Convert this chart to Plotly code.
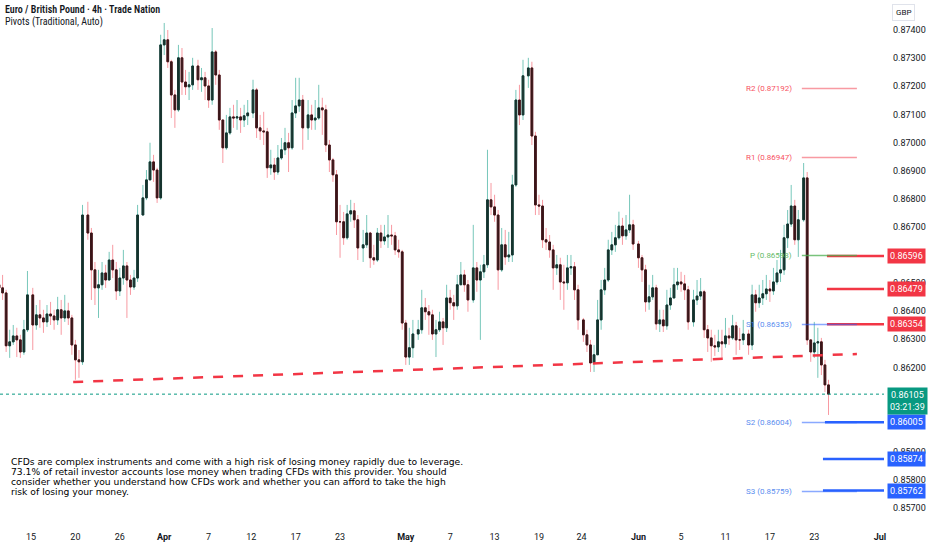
import pandas as pd
import plotly.graph_objects as go

# EUR/GBP, 8h candles (prices in 1e-5 GBP)
first_open = 86494
closes = [
    86483, 86465, 86277, 86291, 86312, 86298, 86255, 86334, 86458,
    86351, 86387, 86376, 86362, 86390, 86383, 86369, 86405, 86376, 86401, 86376, 86280, 86227, 86220, 86742,
    86678, 86547, 86483, 86494, 86536, 86511, 86582, 86547, 86472, 86518, 86561, 86511, 86486, 86518, 86742,
    86803, 86867, 86931, 86902, 86803, 87347, 87365, 87287, 87169, 87116, 87301, 87215, 87198, 87205, 87272,
    87223, 87230, 87201, 87151, 87322, 87240, 87080, 86981, 87034, 87091, 87087, 87091, 87080, 87095, 87105,
    87187, 87052, 87041, 87038, 86910, 86920, 86895, 86945, 86974, 86999, 86981, 87105, 87130, 87151, 87052,
    87098, 87080, 87087, 87123, 87116, 86991, 86938, 86885, 86718, 86718, 86661, 86746, 86757, 86725, 86625,
    86636, 86678, 86590, 86582, 86678, 86650, 86664, 86671, 86668, 86618, 86611, 86358, 86237, 86270, 86319,
    86334, 86412, 86398, 86387, 86319, 86334, 86362, 86341, 86447, 86430, 86419, 86494, 86529, 86494, 86440,
    86554, 86511, 86540, 86565, 86796, 86771, 86742, 86547, 86636, 86593, 86600, 86849, 87151, 87098, 87237,
    87265, 87023, 86778, 86774, 86654, 86646, 86618, 86554, 86565, 86504, 86501, 86554, 86558, 86476, 86369,
    86316, 86280, 86216, 86245, 86369, 86476, 86511, 86618, 86636, 86661, 86703, 86668, 86689, 86707, 86639,
    86590, 86547, 86433, 86451, 86483, 86355, 86369, 86348, 86422, 86447, 86494, 86504, 86497, 86476, 86362,
    86440, 86454, 86469, 86334, 86305, 86277, 86273, 86291, 86284, 86312, 86305, 86348, 86298, 86298, 86319,
    86280, 86458, 86430, 86447, 86462, 86479, 86472, 86504, 86536, 86547, 86661, 86710, 86774, 86654, 86725,
    86874, 86298, 86255, 86287, 86291, 86209, 86138, 86105,
]
highs = [
    86565, 86529, 86476, 86334, 86351, 86341, 86316, 86369, 86543,
    86483, 86422, 86440, 86405, 86422, 86433, 86405, 86451, 86440, 86458, 86430, 86387, 86298, 86262, 86778,
    86789, 86696, 86575, 86547, 86575, 86565, 86611, 86636, 86575, 86554, 86618, 86575, 86529, 86547, 86778,
    86849, 86902, 86999, 86956, 86910, 87383, 87425, 87400, 87294, 87187, 87347, 87336, 87258, 87251, 87301,
    87294, 87265, 87251, 87223, 87407, 87329, 87258, 87080, 87098, 87123, 87134, 87151, 87123, 87134, 87151,
    87223, 87194, 87098, 87109, 87052, 86974, 86945, 86991, 87016, 87052, 87034, 87151, 87230, 87230, 87169,
    87151, 87134, 87151, 87205, 87159, 87134, 87009, 86945, 86902, 86778, 86753, 86778, 86796, 86785, 86742,
    86689, 86742, 86682, 86636, 86696, 86707, 86707, 86742, 86707, 86682, 86654, 86618, 86369, 86341, 86369,
    86369, 86476, 86447, 86422, 86405, 86369, 86398, 86376, 86494, 86476, 86458, 86529, 86575, 86547, 86511,
    86707, 86575, 86565, 86600, 86974, 86856, 86814, 86760, 86696, 86689, 86682, 86885, 87187, 87205, 87294,
    87301, 87287, 87038, 86814, 86796, 86696, 86671, 86636, 86600, 86590, 86565, 86600, 86600, 86575, 86494,
    86376, 86334, 86298, 86280, 86440, 86511, 86554, 86654, 86682, 86707, 86754, 86732, 86742, 86814, 86725,
    86650, 86600, 86565, 86494, 86529, 86494, 86405, 86405, 86476, 86483, 86554, 86554, 86540, 86529, 86490,
    86476, 86511, 86518, 86476, 86351, 86334, 86316, 86334, 86334, 86376, 86341, 86387, 86362, 86341, 86369,
    86334, 86494, 86476, 86494, 86511, 86529, 86511, 86554, 86582, 86618, 86707, 86760, 86849, 86796, 86760,
    86927, 86895, 86298, 86362, 86341, 86305, 86227, 86156,
]
lows = [
    86458, 86440, 86255, 86234, 86280, 86237, 86234, 86245, 86326,
    86262, 86334, 86341, 86323, 86344, 86351, 86334, 86351, 86316, 86362, 86351, 86245, 86156, 86163, 86209,
    86654, 86440, 86422, 86376, 86476, 86483, 86511, 86518, 86440, 86454, 86494, 86376, 86458, 86476, 86504,
    86742, 86795, 86867, 86860, 86785, 86796, 87311, 87265, 87087, 87052, 87109, 87169, 87169, 87151, 87187,
    87187, 87180, 87151, 87123, 87134, 87205, 87045, 86927, 86974, 87027, 87052, 87045, 87034, 87055, 87062,
    87087, 87016, 87009, 86991, 86874, 86885, 86867, 86885, 86938, 86956, 86895, 86974, 87087, 87109, 86974,
    87009, 87045, 87045, 87080, 87027, 86966, 86895, 86860, 86671, 86590, 86636, 86654, 86718, 86696, 86582,
    86575, 86625, 86554, 86565, 86575, 86625, 86636, 86625, 86636, 86600, 86590, 86334, 86209, 86209, 86234,
    86298, 86320, 86369, 86316, 86298, 86237, 86326, 86280, 86326, 86405, 86369, 86405, 86494, 86469, 86398,
    86430, 86469, 86298, 86518, 86554, 86742, 86718, 86476, 86540, 86565, 86575, 86575, 86842, 87062, 87080,
    87194, 86991, 86742, 86742, 86625, 86618, 86590, 86476, 86529, 86440, 86405, 86476, 86529, 86440, 86334,
    86291, 86255, 86184, 86184, 86245, 86334, 86458, 86504, 86600, 86611, 86654, 86636, 86654, 86678, 86618,
    86554, 86504, 86398, 86405, 86440, 86334, 86326, 86326, 86334, 86405, 86447, 86476, 86469, 86440, 86334,
    86345, 86422, 86440, 86305, 86255, 86220, 86241, 86255, 86234, 86270, 86280, 86298, 86245, 86262, 86280,
    86245, 86262, 86398, 86412, 86422, 86440, 86433, 86458, 86494, 86504, 86529, 86625, 86700, 86636, 86593,
    86718, 86280, 86220, 86234, 86163, 86173, 86113, 86031,
]

last_price = 0.86105
countdown = "03:21:39"

pivot_names = ["R2", "R1", "P", "S1", "S2", "S3"]
pivot_values = [0.87192, 0.86947, 0.86598, 0.86353, 0.86004, 0.85759]

red_levels = [0.86596, 0.86479, 0.86354]
blue_levels = [0.86005, 0.85874, 0.85762]

trend_times = ["2026-03-19 19:00", "2026-06-27 00:00"]
trend_prices = [0.861482, 0.862478]

# scale values that are not hidden behind the coloured price labels
price_ticks = [0.857, 0.858, 0.859, 0.862, 0.863, 0.864, 0.865,
               0.867, 0.868, 0.869, 0.870, 0.871, 0.872, 0.873, 0.874]

tick_dates = ["2026-03-15", "2026-03-20", "2026-03-26", "2026-04-01", "2026-04-07",
              "2026-04-12", "2026-04-17", "2026-04-23", "2026-05-01", "2026-05-07",
              "2026-05-13", "2026-05-19", "2026-05-24", "2026-06-01", "2026-06-05",
              "2026-06-11", "2026-06-17", "2026-06-23", "2026-07-01"]
tick_text = ["15", "20", "26", "<b>Apr</b>", "7", "12", "17", "23", "<b>May</b>", "7",
             "13", "19", "24", "<b>Jun</b>", "5", "11", "17", "23", "<b>Jul</b>"]

disclaimer = [
    "CFDs are complex instruments and come with a high risk of losing money rapidly due to leverage.",
    "73.1% of retail investor accounts lose money when trading CFDs with this provider. You should",
    "consider whether you understand how CFDs work and whether you can afford to take the high",
    "risk of losing your money.",
]

# ---- time scale like TradingView: weekdays full width, Sunday one short session, no Saturday
ORIGIN = pd.Timestamp("2026-03-15")  # a Sunday


def slot(t):
    d = (pd.Timestamp(t) - ORIGIN) / pd.Timedelta(days=1)
    week, rest = divmod(d, 7)
    if rest < 1:
        off = rest / 6
    elif rest < 6:
        off = 1 / 6 + (rest - 1)
    else:
        off = 1 / 6 + 5
    return week * (5 + 1 / 6) + off


days = pd.bdate_range("2026-03-11", "2026-06-24")
bar_times = [d + pd.Timedelta(hours=h) for d in days for h in (0, 8, 16)][:len(closes)]
x = [slot(t) for t in bar_times]

o = [first_open / 1e5] + [c / 1e5 for c in closes[:-1]]  # FX: open = prior close
c = [v / 1e5 for v in closes]
h = [v / 1e5 for v in highs]
l = [v / 1e5 for v in lows]
body_top = [max(a, b) for a, b in zip(o, c)]
body_bot = [min(a, b) for a, b in zip(o, c)]

FONT = "Roboto"
NARROW = "Liberation Sans Narrow, Roboto Condensed, DejaVu Sans Condensed, Roboto"
TXT = "#131722"
RED = "#F23645"
BLUE = "#2962FF"
GREEN = "#089981"

fig = go.Figure()
# wicks (light)
fig.add_trace(go.Candlestick(
    x=x, open=o, high=h, low=l, close=c,
    increasing=dict(line=dict(color="rgba(8,153,129,0.55)", width=1), fillcolor="rgba(0,0,0,0)"),
    decreasing=dict(line=dict(color="rgba(242,54,69,0.5)", width=1), fillcolor="rgba(0,0,0,0)"),
    whiskerwidth=0, hoverinfo="skip", showlegend=False,
))
# dark bodies on top
fig.add_trace(go.Candlestick(
    x=x, open=o, high=body_top, low=body_bot, close=c,
    increasing=dict(line=dict(color="#16332e", width=1), fillcolor="#16332e"),
    decreasing=dict(line=dict(color="#3a1619", width=1), fillcolor="#3a1619"),
    whiskerwidth=0, hoverinfo="skip", showlegend=False,
))

x_end = slot("2026-07-03")

# last price dotted line
fig.add_shape(type="line", xref="paper", x0=0, x1=1, yref="y", y0=last_price, y1=last_price,
              line=dict(color=GREEN, width=1, dash="dot"), layer="above")

# support trendline
fig.add_shape(type="line", xref="x", yref="y",
              x0=slot(trend_times[0]), x1=slot(trend_times[1]),
              y0=trend_prices[0], y1=trend_prices[1],
              line=dict(color=RED, width=2.5, dash="10px,10px"), layer="above")

# horizontal rays
for lv in red_levels:
    fig.add_shape(type="line", xref="x", yref="y", x0=slot("2026-06-24 04:30"), x1=x_end,
                  y0=lv, y1=lv, line=dict(color=RED, width=2.5), layer="above")
blue_start = ["2026-06-24 00:00", "2026-06-23 19:30", "2026-06-23 19:30"]
for lv, st in zip(blue_levels, blue_start):
    fig.add_shape(type="line", xref="x", yref="y", x0=slot(st), x1=x_end,
                  y0=lv, y1=lv, line=dict(color=BLUE, width=2.5), layer="above")

# weekly pivots
piv_line = {"R": "rgba(242,54,69,0.5)", "P": "rgba(76,175,80,0.75)", "S": "rgba(41,98,255,0.55)"}
piv_text = {"R": "#F7525F", "P": "#66BB6A", "S": "#5B8DEF"}
annotations = []
for name, val in zip(pivot_names, pivot_values):
    k = name[0]
    fig.add_shape(type="line", xref="x", yref="y", x0=slot("2026-06-21"), x1=slot("2026-06-27"),
                  y0=val, y1=val, line=dict(color=piv_line[k], width=1.5), layer="above")
    annotations.append(dict(x=slot("2026-06-21"), y=val, xref="x", yref="y",
                            text=f"{name} ({val:.5f})", showarrow=False, xanchor="right",
                            xshift=-8, font=dict(family=FONT, size=8, color=piv_text[k])))


# price-scale labels
def scale_label(val, text, color, yanchor="middle", yshift=0):
    return dict(x=1, xref="paper", y=val, yref="y", text=text, showarrow=False,
                xanchor="left", xshift=3, yanchor=yanchor, yshift=yshift,
                bgcolor=color, borderpad=2, align="center",
                font=dict(family=FONT, size=9, color="white"))


for lv in red_levels:
    annotations.append(scale_label(lv, f"{lv:.5f}", RED))
for lv in blue_levels:
    annotations.append(scale_label(lv, f"{lv:.5f}", BLUE))
annotations.append(scale_label(last_price, f"{last_price:.5f}<br>{countdown}", GREEN,
                               yanchor="top", yshift=7))

annotations.append(dict(x=1, xref="paper", y=1, yref="paper", text="GBP", showarrow=False,
                        xanchor="left", xshift=8, yanchor="top", yshift=-4,
                        bordercolor="#e0e3eb", borderwidth=1, borderpad=3,
                        font=dict(family=FONT, size=8, color=TXT)))

annotations.append(dict(x=0, xref="paper", y=1, yref="paper", xanchor="left", yanchor="top",
                        xshift=3, yshift=-2, showarrow=False,
                        text="Euro / British Pound · 4h · Trade Nation",
                        font=dict(family=NARROW, size=10, color=TXT, weight=600)))
annotations.append(dict(x=0, xref="paper", y=1, yref="paper", xanchor="left", yanchor="top",
                        xshift=3, yshift=-13.5, showarrow=False,
                        text="Pivots (Traditional, Auto)",
                        font=dict(family=NARROW, size=10, color=TXT)))

for i, line in enumerate(disclaimer):
    annotations.append(dict(x=0, xref="paper", y=1, yref="paper", xanchor="left", yanchor="middle",
                            xshift=9, yshift=-(461.7 + 10 * i), showarrow=False, text=line,
                            font=dict(family="DejaVu Sans", size=9.2, color="#000000")))

fig.update_layout(
    width=932, height=550,
    margin=dict(l=0, r=48, t=0, b=25, autoexpand=False),
    paper_bgcolor="white", plot_bgcolor="white",
    showlegend=False,
    annotations=annotations,
    xaxis=dict(range=[slot("2026-03-11 02:10"), slot("2026-07-01 09:00")],
               tickvals=[slot(d) for d in tick_dates], ticktext=tick_text,
               showgrid=False, zeroline=False, showline=False, ticks="",
               automargin=False, ticklabelstandoff=5,
               rangeslider=dict(visible=False),
               tickfont=dict(family=FONT, size=9, color=TXT)),
    yaxis=dict(side="right", range=[0.8563969, 0.8750669],
               tickvals=price_ticks, ticktext=[f"{v:.5f}" for v in price_ticks],
               showgrid=False, zeroline=False, showline=False, ticks="",
               automargin=False, ticklabelstandoff=8,
               tickfont=dict(family=FONT, size=9, color=TXT)),
)

fig.write_html("out.html", config={"displayModeBar": False},
               post_script="document.body.style.margin='0px';")
